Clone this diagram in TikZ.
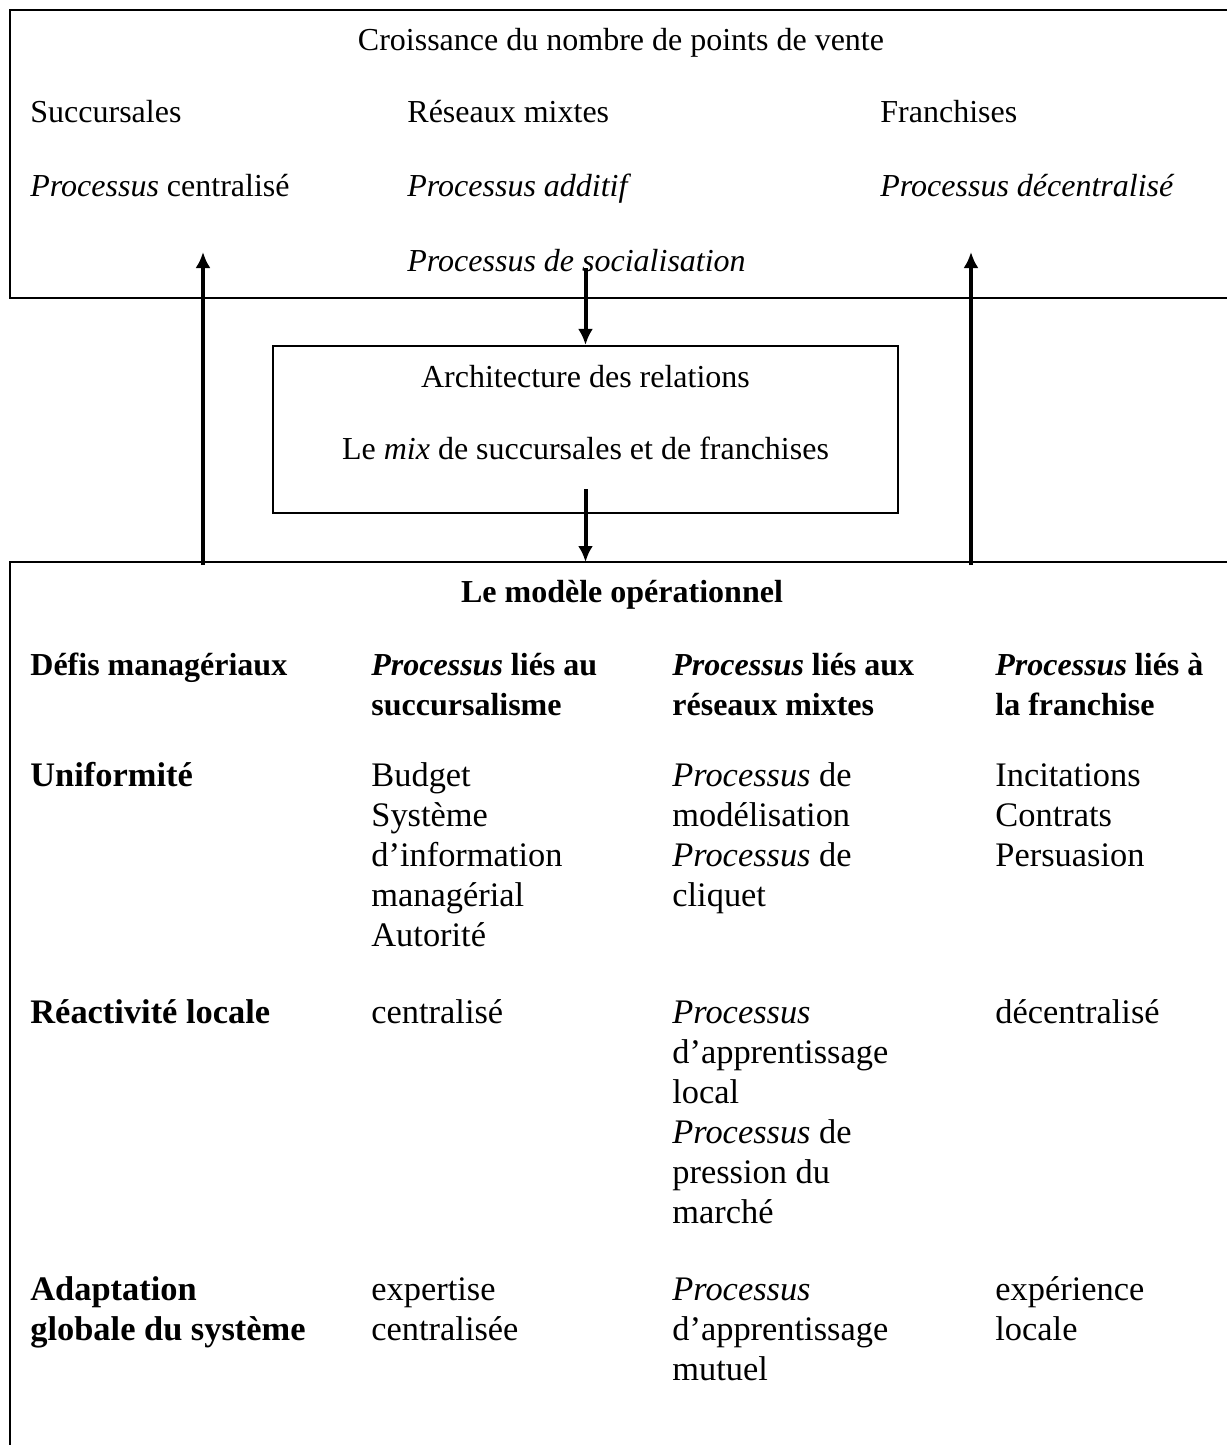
\documentclass[tikz,border=0pt]{standalone}
\usepackage{fontspec}
\setmainfont{Liberation Serif}
\usetikzlibrary{arrows.meta}
\newcommand\corps{\fontsize{16pt}{20pt}\selectfont}
\newcommand\corpsgrand{\fontsize{17.2pt}{20pt}\selectfont}

\begin{document}
\begin{tikzpicture}[
				x=0.5pt, y=-0.5pt,
				cadre/.style = {draw, line width=1.1pt},
				fleche/.style = {-{Latex[length=8pt, width=7.5pt]}, line width=2pt},
				cellule/.style = {anchor=north west, inner sep=0pt, align=left, font=\corps},
				ligne/.style = {cellule, font=\corpsgrand},
				titre/.style = {anchor=north, inner sep=0pt, font=\corps},
			]
			\path[use as bounding box] (0,0) rectangle (1226,1445);
			\draw[cadre] (10,10) rectangle (1240,298);
			\draw[cadre] (10,562) rectangle (1240,1470);
			\node[cadre, minimum width=312.5pt, minimum height=83.5pt] (archi) at (585.5,429.5) {};

			\node[titre] (croissance) at (621,22) {\strut Croissance du nombre de points de vente};
			\node[cellule] (succ) at (30,94) {\strut Succursales};
			\node[cellule] (mixte) at (407,94) {\strut Réseaux mixtes};
			\node[cellule] (fran) at (880,94) {\strut Franchises};
			\node[cellule] (centr) at (30,168) {\strut\textit{Processus} centralisé};
			\node[cellule] (addit) at (407,168) {\strut\textit{Processus additif}};
			\node[cellule] (decentr) at (880,168) {\strut\textit{Processus décentralisé}};
			\node[cellule] (social) at (407,243) {\strut\textit{Processus de socialisation}};

			\node[titre] (relations) at (585.5,359) {\strut Architecture des relations};
			\node[titre] (mix) at (585.5,431) {\strut Le \textit{mix} de succursales et de franchises};

			\node[titre, font=\corps\bfseries] (modele) at (622,574) {\strut Le modèle opérationnel};
			\node[cellule, font=\corps\bfseries] (defis) at (30,647) {\strut Défis managériaux};
			\node[cellule, font=\corps\bfseries] (tete-succ) at (371,647) {\strut\textit{Processus} liés au\\succursalisme};
			\node[cellule, font=\corps\bfseries] (tete-mixte) at (672,647) {\strut\textit{Processus} liés aux\\réseaux mixtes};
			\node[cellule, font=\corps\bfseries] (tete-fran) at (995,647) {\strut\textit{Processus} liés à\\la franchise};

			\node[ligne, font=\corpsgrand\bfseries] (uniform) at (30,758) {\strut Uniformité};
			\node[ligne] (uniform-succ) at (371,758) {\strut Budget\\Système\\d’information\\managérial\\Autorité};
			\node[ligne] (uniform-mixte) at (672,758) {\strut\textit{Processus} de\\modélisation\\\textit{Processus} de\\cliquet};
			\node[ligne] (uniform-fran) at (995,758) {\strut Incitations\\Contrats\\Persuasion};

			\node[ligne, font=\corpsgrand\bfseries] (reac) at (30,995) {\strut Réactivité locale};
			\node[ligne] (reac-succ) at (371,995) {\strut centralisé};
			\node[ligne] (reac-mixte) at (672,995) {\strut\textit{Processus}\\d’apprentissage\\local\\\textit{Processus} de\\pression du\\marché};
			\node[ligne] (reac-fran) at (995,995) {\strut décentralisé};

			\node[ligne, font=\corpsgrand\bfseries] (adapt) at (30,1272) {\strut Adaptation\\globale du système};
			\node[ligne] (adapt-succ) at (371,1272) {\strut expertise\\centralisée};
			\node[ligne] (adapt-mixte) at (672,1272) {\strut\textit{Processus}\\d’apprentissage\\mutuel};
			\node[ligne] (adapt-fran) at (995,1272) {\strut expérience\\locale};

			\coordinate (soc-bas) at (585.5,268);
			\coordinate (mix-bas) at (585.5,489);
			\coordinate (modele-haut) at (585.5,562);
			\coordinate (succ-bas) at (203,565);
			\coordinate (succ-haut) at (203,252);
			\coordinate (fran-bas) at (971,565);
			\coordinate (fran-haut) at (971,252);
			\draw[fleche] (soc-bas) -- (archi.north);
			\draw[fleche] (mix-bas) -- (modele-haut);
			\draw[fleche] (succ-bas) -- (succ-haut);
			\draw[fleche] (fran-bas) -- (fran-haut);
		\end{tikzpicture}
\end{document}
